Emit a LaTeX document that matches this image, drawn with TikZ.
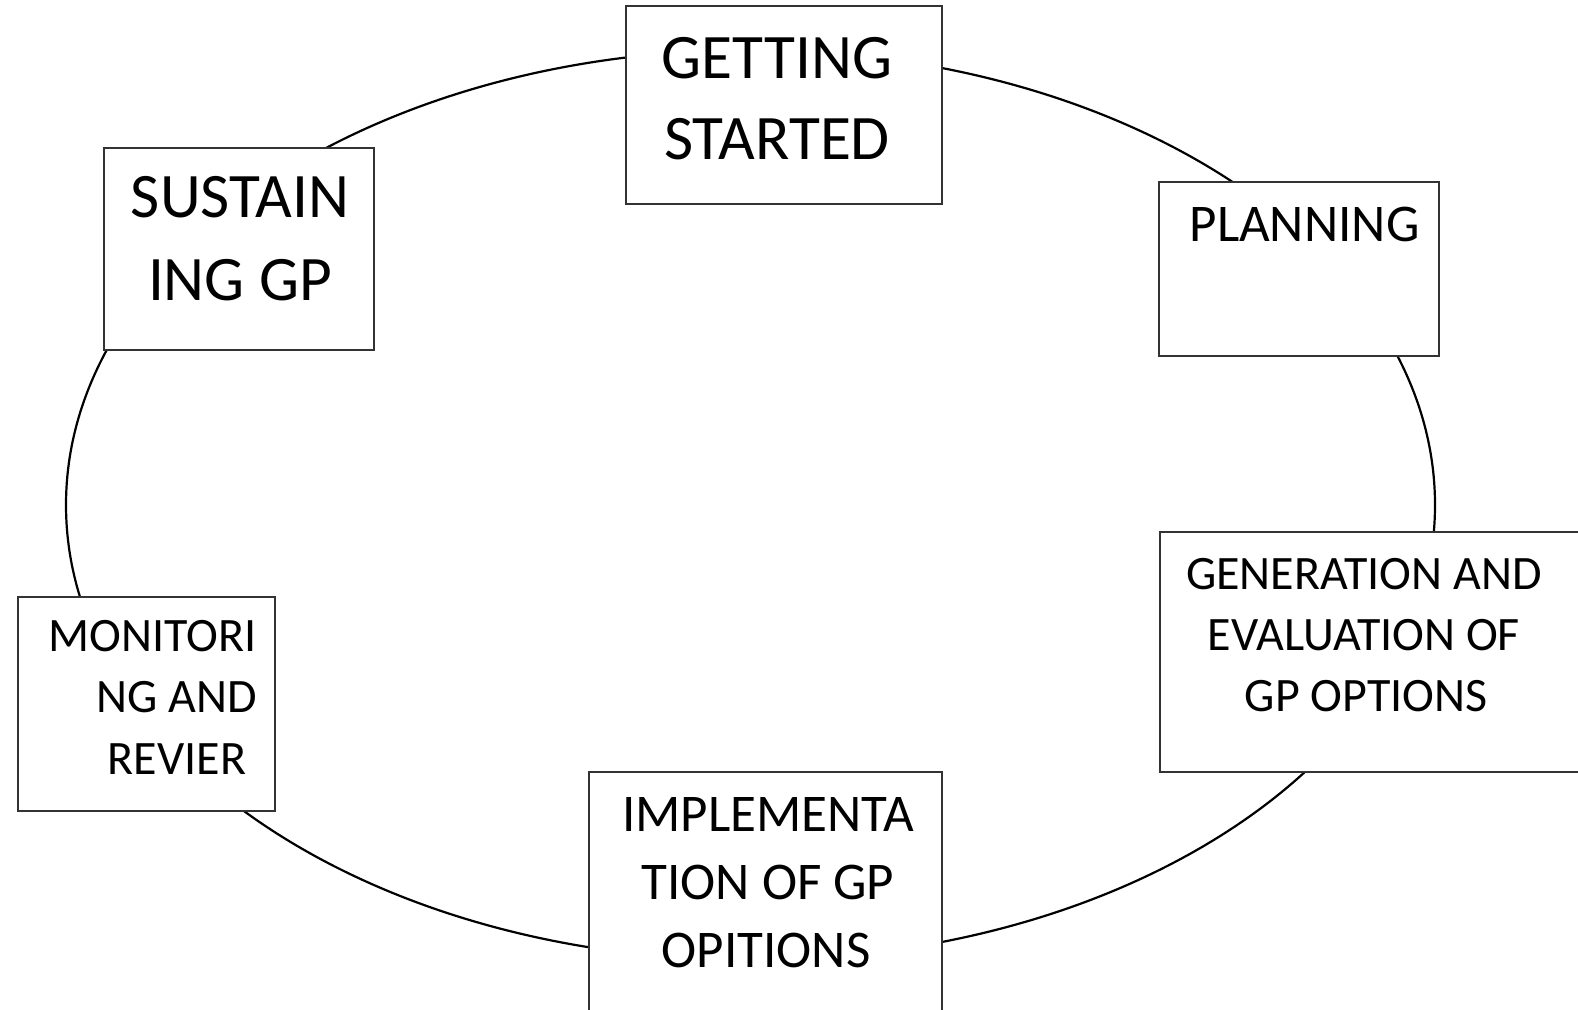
\documentclass[tikz,border=0pt]{standalone}
\usepackage{fontspec}
\setmainfont{Carlito}
\begin{document}
\begin{tikzpicture}[x=0.5pt,y=-0.5pt,
  box/.style={draw=black!80,line width=0.8pt,fill=white,rectangle,inner sep=0pt},
  lbl/.style={inner sep=0pt,anchor=base},
  fbig/.style={font=\fontsize{31.7}{31.7}\selectfont},
  fmid/.style={font=\fontsize{26.5}{26.5}\selectfont},
  fsml/.style={font=\fontsize{24}{24}\selectfont}]
\useasboundingbox (0,0) rectangle (1578,1010);
\clip (0,0) rectangle (1578,1010);
\fill[white] (0,0) rectangle (1578,1010);
\draw[line width=1.1pt] (750.5,505) ellipse [x radius=342.25pt, y radius=227.5pt];
% boxes
\node[box,minimum width=158pt,minimum height=99pt] (gs) at (784,105) {};
\node[box,minimum width=140pt,minimum height=87pt] (pl) at (1299,269) {};
\node[box,minimum width=135pt,minimum height=101pt] (su) at (239,249) {};
\node[box,minimum width=230pt,minimum height=120pt] (ge) at (1390,652) {};
\node[box,minimum width=176.5pt,minimum height=129pt] (im) at (765.5,901) {};
\node[box,minimum width=128.5pt,minimum height=107pt] (mo) at (146.5,704) {};
% texts
\node[lbl,fbig] (gs1) at (777,79) {GETTING};
\node[lbl,fbig] (gs2) at (777,160) {STARTED};
\node[lbl,fmid] (pl1) at (1304.5,242) {PLANNING};
\node[lbl,fbig] (su1) at (240,218) {SUSTAIN};
\node[lbl,fbig] (su2) at (240,301) {ING GP};
\node[lbl,fsml] (ge1) at (1364,589) {GENERATION AND};
\node[lbl,fsml] (ge2) at (1364,650) {EVALUATION OF};
\node[lbl,fsml] (ge3) at (1366,711) {GP OPTIONS};
\node[lbl,fmid] (im1) at (768,831) {IMPLEMENTA};
\node[lbl,fmid] (im2) at (768,899) {TION OF GP};
\node[lbl,fmid] (im3) at (766,967) {OPITIONS};
\node[lbl,fsml,anchor=base east] (mo1) at (257,651) {MONITORI};
\node[lbl,fsml,anchor=base east] (mo2) at (257,712) {NG AND};
\node[lbl,fsml] (mo3) at (177,774) {REVIER};
\end{tikzpicture}
\end{document}
